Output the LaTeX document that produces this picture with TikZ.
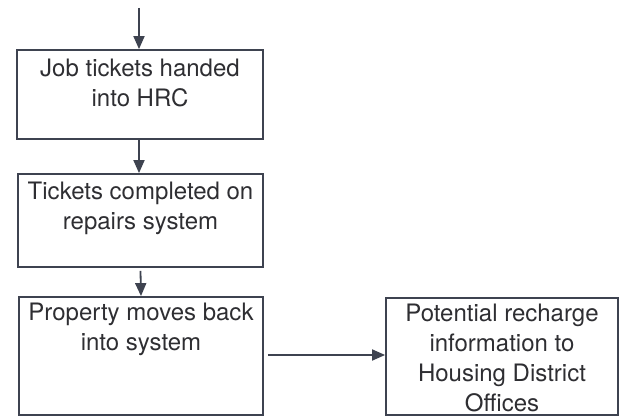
\documentclass[tikz,border=0pt]{standalone}
\usepackage{fontspec}
\setmainfont{TeX Gyre Heros}
\usetikzlibrary{arrows.meta}
\definecolor{linec}{HTML}{3E4350}
\definecolor{textc}{HTML}{2E2E32}
\begin{document}
\begin{tikzpicture}[x=1pt,y=-1pt,
  box/.style={draw=linec,line width=1.8pt,rectangle,inner sep=0pt},
  label/.style={anchor=north,inner sep=0pt,align=center,text=textc,font=\fontsize{24}{30}\selectfont},
  conn/.style={draw=linec,line width=1.8pt,-{Triangle[length=13pt,width=11pt]}}]
\useasboundingbox (0,0) rectangle (621,417);
\node[box,minimum width=246pt,minimum height=89pt] (b1) at (140,94.5) {};
\node[box,minimum width=245pt,minimum height=93pt] (b2) at (140.5,220.5) {};
\node[box,minimum width=244pt,minimum height=118pt] (b3) at (141,356) {};
\node[box,minimum width=232pt,minimum height=117pt] (b4) at (502,356.5) {};
\node[label] (t1) at ([yshift=-9.5pt]b1.north) {Job tickets handed\\into HRC};
\node[label] (t2) at ([yshift=-8.5pt]b2.north) {Tickets completed on\\repairs system};
\node[label] (t3) at ([yshift=-6.5pt]b3.north) {Property moves back\\into system};
\node[label] (t4) at ([yshift=-6.5pt]b4.north) {Potential recharge\\information to\\Housing District\\Offices};
\coordinate (top) at (139,8);
\coordinate (hend) at ([yshift=1.5pt]b4.west);
\draw[conn] (top) -- (top |- b1.north);
\draw[conn] (b1.south -| top) -- (top |- b2.north);
\draw[conn] ([yshift=-3pt]b2.south) -- (b3.north);
\draw[conn] ([xshift=4pt]b3.east |- hend) -- (hend);
\end{tikzpicture}
\end{document}
